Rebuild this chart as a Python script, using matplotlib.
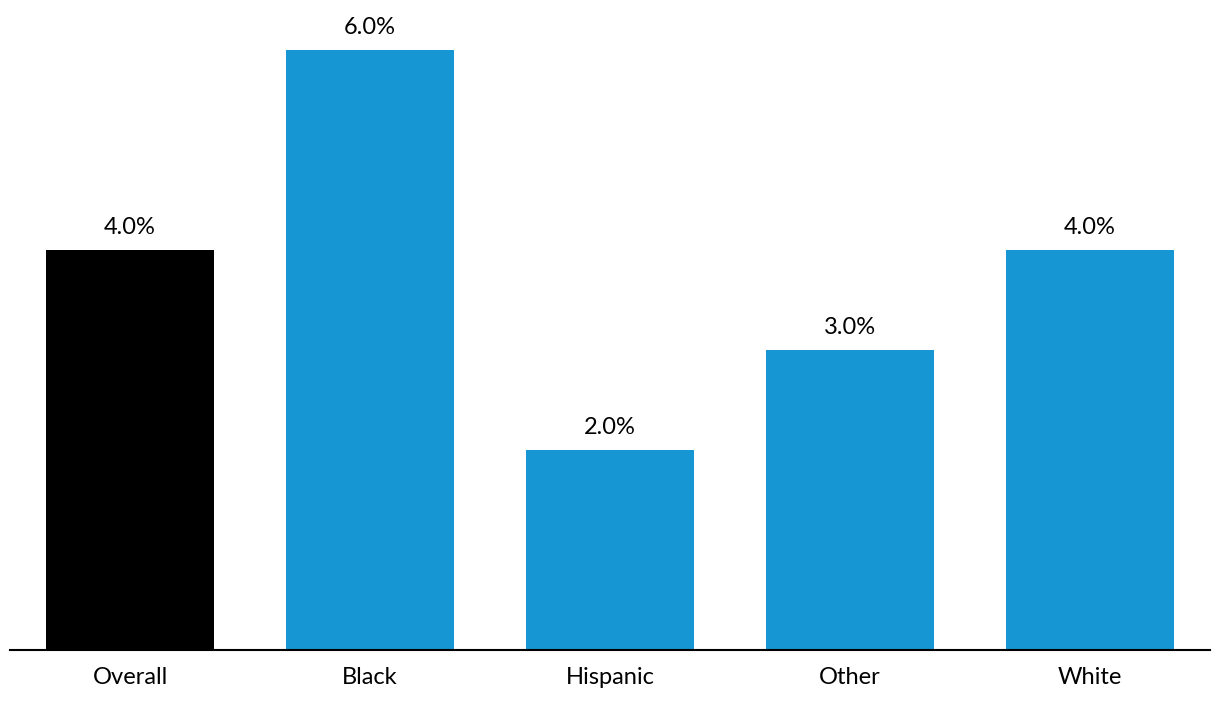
import matplotlib
matplotlib.use("Agg")
import matplotlib.pyplot as plt

# Data
GROUPS = ["Overall", "Black", "Hispanic", "Other", "White"]
SHARES = [4.0, 6.0, 2.0, 3.0, 4.0]
COLORS = ["#000000", "#1696d2", "#1696d2", "#1696d2", "#1696d2"]

plt.rcParams["font.family"] = ["Lato", "DejaVu Sans"]

fig = plt.figure(figsize=(12.2, 7.06), dpi=100)
ax = fig.add_axes([10 / 1220, 56 / 706, 1200 / 1220, 650 / 706])

x = range(len(GROUPS))
bars = ax.bar(x, SHARES, width=0.7, color=COLORS, zorder=2)

for bar, val in zip(bars, SHARES):
    ax.annotate(f"{val:.1f}%", (bar.get_x() + bar.get_width() / 2, val),
                xytext=(0, 8.5), textcoords="offset points",
                ha="center", va="bottom", fontsize=17, color="#000000")

ax.set_xlim(-0.5, len(GROUPS) - 0.5)
ax.set_ylim(0, 6.5)
ax.set_xticks(list(x))
ax.set_xticklabels(GROUPS, fontsize=17)
ax.tick_params(axis="x", length=0, pad=12.5)
ax.set_yticks([])

for side in ("top", "right", "left"):
    ax.spines[side].set_visible(False)
ax.spines["bottom"].set_linewidth(1.5)
ax.spines["bottom"].set_zorder(3)

fig.savefig("out.png", dpi=100)
